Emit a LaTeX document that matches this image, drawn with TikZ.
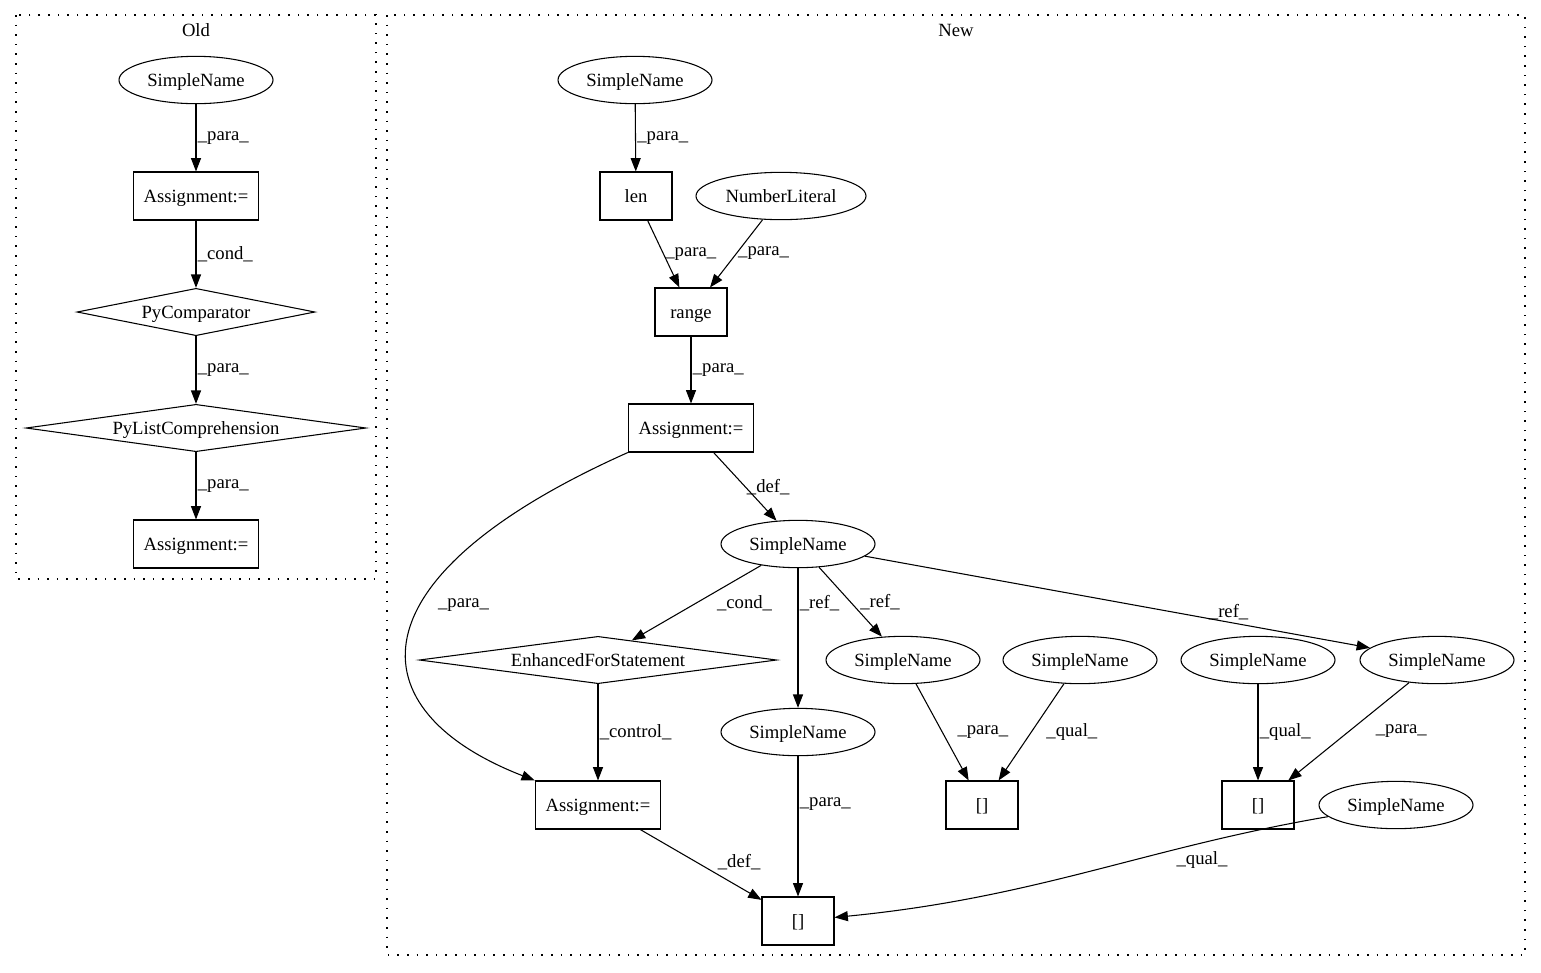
\documentclass[tikz,border=0pt]{standalone}
\usepackage{fontspec}
\setmainfont{Liberation Serif}
\usepackage{tikz}
\usetikzlibrary{shapes.geometric,arrows.meta}

\begin{document}
\begin{tikzpicture}[x=0.75pt,y=0.75pt,yscale=-1,xscale=1,
  font=\fontsize{14pt}{16pt}\selectfont,
  ell/.style={draw,ellipse,minimum width=115.5pt,minimum height=35.5pt,inner sep=0pt,line width=0.8pt,text height=10pt,text depth=0.5pt},
  rbox/.style={draw,rectangle,minimum width=54pt,minimum height=36pt,inner sep=0pt,line width=0.8pt,text height=10pt,text depth=0.5pt},
  dia/.style={draw,diamond,aspect=7,minimum height=35.5pt,inner sep=0pt,line width=0.8pt,text height=10pt,text depth=0.5pt},
  conn/.style={-{Triangle[length=10pt,width=7.5pt]},line width=0.8pt},
  lbl/.style={inner sep=1pt},
  cluster/.style={dash pattern=on 1.2pt off 6pt,line width=1pt}]
\useasboundingbox (0,0) rectangle (1541,972);

%Clusters
\draw[cluster] (16,15) rectangle (376,579);
\draw[cluster] (387,15) rectangle (1525,955);
% Text Node
\draw (196,30) node [inner sep=0pt] (oldLbl) {Old};
% Text Node
\draw (956,30) node [inner sep=0pt] (newLbl) {New};

%Shape: Old side
\draw (196,80) node [ell] (oldSN) {SimpleName};
\draw (196,196) node [rbox,minimum width=94pt] (oldAsgA) {Assignment:=};
\draw (196,312) node [dia,minimum width=178.5pt] (oldCmp) {PyComparator};
\draw (196,428) node [dia,minimum width=255pt] (oldListComp) {PyListComprehension};
\draw (196,544) node [rbox,minimum width=94pt] (oldAsgB) {Assignment:=};

%Shape: New side
\draw (635,80) node [ell] (newSN) {SimpleName};
\draw (636,196) node [rbox] (newLen) {len};
\draw (781,196) node [ell,minimum width=127.5pt] (newNum) {NumberLiteral};
\draw (691,312) node [rbox] (newRange) {range};
\draw (691,428) node [rbox,minimum width=94pt] (newAsgA) {Assignment:=};
\draw (798,544) node [ell] (newVar) {SimpleName};
\draw (598,660) node [dia,minimum width=268pt] (newFor) {EnhancedForStatement};
\draw (903,660) node [ell] (newRefB) {SimpleName};
\draw (1080,660) node [ell] (newQualA) {SimpleName};
\draw (1258,660) node [ell] (newQualB) {SimpleName};
\draw (1437,660) node [ell] (newRefC) {SimpleName};
\draw (798,732) node [ell] (newRefA) {SimpleName};
\draw (598,805) node [rbox,minimum width=94pt] (newAsgB) {Assignment:=};
\draw (982,805) node [rbox] (newIdxA) {[]};
\draw (1258,805) node [rbox] (newIdxB) {[]};
\draw (1396,805) node [ell] (newQualC) {SimpleName};
\draw (798,921) node [rbox] (newIdxC) {[]};

%Straight Lines: Old side
\draw[conn] (oldSN) -- node[lbl,anchor=west] {\_para\_} (oldAsgA);
\draw[conn] (oldAsgA) -- node[lbl,anchor=west] {\_cond\_} (oldCmp);
\draw[conn] (oldCmp) -- node[lbl,anchor=west] {\_para\_} (oldListComp);
\draw[conn] (oldListComp) -- node[lbl,anchor=west] {\_para\_} (oldAsgB);

%Straight Lines: New side
\draw[conn] (newSN) -- node[lbl,anchor=west] {\_para\_} (newLen);
\draw[conn] (newLen) -- node[lbl,anchor=west] {\_para\_} (newRange);
\draw[conn] (newNum) -- node[lbl,anchor=west] {\_para\_} (newRange);
\draw[conn] (newRange) -- node[lbl,anchor=west] {\_para\_} (newAsgA);
\draw[conn] (newAsgA) -- node[lbl,anchor=west] {\_def\_} (newVar);
\draw[conn] (newAsgA.south west) .. controls +(-280,125) and +(-180,-70) .. node[lbl,pos=0.41,anchor=west,xshift=12pt] {\_para\_} (newAsgB.north west);
\draw[conn] (newVar) -- node[lbl,anchor=west,xshift=14pt] {\_cond\_} (newFor);
\draw[conn] (newVar) -- node[lbl,pos=0.25,anchor=west] {\_ref\_} (newRefA);
\draw[conn] (newVar) -- node[lbl,anchor=west,xshift=6pt] {\_ref\_} (newRefB);
\draw[conn] (newVar) -- node[lbl,pos=0.72,above] {\_ref\_} (newRefC);
\draw[conn] (newFor) -- node[lbl,anchor=west] {\_control\_} (newAsgB);
\draw[conn] (newRefA) -- node[lbl,pos=0.34,anchor=west] {\_para\_} (newIdxC);
\draw[conn] (newAsgB) -- node[lbl,pos=0.46,anchor=west,xshift=15pt] {\_def\_} (newIdxC);
\draw[conn] (newRefB) -- node[lbl,anchor=west,xshift=10pt] {\_para\_} (newIdxA);
\draw[conn] (newQualA) -- node[lbl,anchor=west,xshift=10pt] {\_qual\_} (newIdxA);
\draw[conn] (newQualB) -- node[lbl,anchor=west] {\_qual\_} (newIdxB);
\draw[conn] (newRefC) -- node[lbl,anchor=west,xshift=19pt] {\_para\_} (newIdxB);
\draw[conn] (newQualC) to[out=163,in=-8] node[lbl,pos=0.25,anchor=north,inner sep=6pt] {\_qual\_} (newIdxC);

\end{tikzpicture}
\end{document}
